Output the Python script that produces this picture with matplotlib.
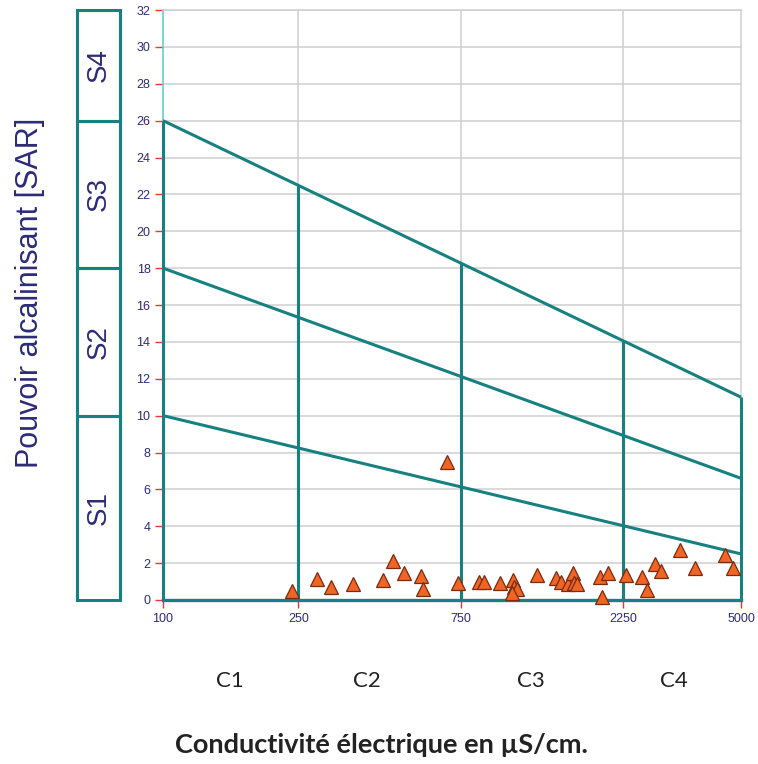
import matplotlib
matplotlib.use("Agg")
import matplotlib.pyplot as plt
import matplotlib.transforms as mtransforms
import numpy as np

# ---- data ----
ce_values = [240, 283, 311, 361, 443, 473, 512, 573, 582, 682,
             734, 851, 880, 979, 1072, 1079, 1101, 1059, 1254, 1429,
             1479, 1548, 1608, 1616, 1645, 1927, 2039, 1955, 2293, 2553,
             2641, 2794, 2910, 3311, 3664, 4490, 4747]
sar_values = [0.5, 1.12, 0.72, 0.85, 1.07, 2.11, 1.48, 1.30, 0.58, 7.5,
              0.9, 0.99, 0.96, 0.9, 1.08, 0.72, 0.6, 0.4, 1.36, 1.18,
              0.99, 0.85, 1.45, 0.94, 0.85, 1.26, 1.45, 0.18, 1.36, 1.26,
              0.54, 1.94, 1.57, 2.71, 1.72, 2.44, 1.72]

x_ticks = [100, 250, 750, 2250, 5000]
y_ticks = list(range(0, 33, 2))
ce_class_limits = [100, 250, 750, 2250, 5000]
c_labels = ["C1", "C2", "C3", "C4"]
c_label_x = [157, 398, 1207, 3177]
sar_left = [10, 18, 26]      # boundary lines at CE = 100
sar_right = [2.5, 6.6, 11]   # boundary lines at CE = 5000
s_limits = [0, 10, 18, 26, 32]
s_labels = ["S1", "S2", "S3", "S4"]

teal = "#178080"
navy = "#2b2b78"

fig = plt.figure(figsize=(7.58, 7.64), dpi=100)
ax = fig.add_axes([163/758, 1 - 600/764, 578/758, 590/764])
ax.set_xscale("log")
ax.set_xlim(100, 5000)
ax.set_ylim(0, 32)

# grid
for y in y_ticks[1:]:
    ax.axhline(y, color="#cfcfcf", lw=1.1, zorder=1)
for x in x_ticks[1:-1]:
    ax.axvline(x, color="#cfcfcf", lw=1.1, zorder=1)

# boundary lines (straight in log-x)
lx0, lx1 = np.log10(ce_class_limits[0]), np.log10(ce_class_limits[-1])
def boundary(x, i):
    t = (np.log10(x) - lx0) / (lx1 - lx0)
    return sar_left[i] + t * (sar_right[i] - sar_left[i])

for i in range(3):
    ax.plot([ce_class_limits[0], ce_class_limits[-1]], [sar_left[i], sar_right[i]],
            color=teal, lw=2.2, zorder=3, solid_capstyle="butt", clip_on=False)
for x in ce_class_limits:
    ax.plot([x, x], [0, boundary(x, 2)], color=teal, lw=2.2, zorder=4,
            solid_capstyle="butt", clip_on=False)

# points
ax.plot(ce_values, sar_values, linestyle="none", marker="^", markersize=10,
        markerfacecolor="#f06524", markeredgecolor="#7a2a10", markeredgewidth=0.9,
        zorder=5, clip_on=False)

# spines
ax.spines["left"].set_color("#66cccc")
ax.spines["left"].set_linewidth(1.2)
ax.spines["bottom"].set_color(teal)
ax.spines["bottom"].set_linewidth(2.4)
ax.spines["top"].set_color("#cfcfcf")
ax.spines["right"].set_color("#cfcfcf")
ax.spines["top"].set_linewidth(1.1)
ax.spines["right"].set_linewidth(1.1)
ax.spines["right"].set_zorder(0.5)

ax.set_xticks(x_ticks)
ax.set_xticklabels([str(v) for v in x_ticks])
ax.xaxis.set_minor_locator(matplotlib.ticker.NullLocator())
ax.set_yticks(y_ticks)
ax.set_yticklabels([str(v) for v in y_ticks])
ax.tick_params(axis="both", colors="#ee3333", length=6, width=1.0,
               labelcolor=navy, labelsize=9, pad=3)
for lab in ax.get_xticklabels() + ax.get_yticklabels():
    lab.set_family("Liberation Sans")

# S boxes on the left (x in axes coords, y in data)
trans = mtransforms.blended_transform_factory(ax.transAxes, ax.transData)
bx0, bx1 = (77 - 163) / 578, (120 - 163) / 578
for i, lab in enumerate(s_labels):
    y0, y1 = s_limits[i], s_limits[i + 1]
    rect = plt.Rectangle((bx0, y0), bx1 - bx0, y1 - y0, transform=trans,
                         fill=False, edgecolor=teal, lw=2.2, clip_on=False)
    ax.add_patch(rect)
    ax.text((bx0 + bx1) / 2, (y0 + y1) / 2, lab, transform=trans, rotation=90,
            ha="center", va="center", fontsize=20, color=navy,
            family="Liberation Sans")

# y label
fig.text(30 / 758, 1 - 293 / 764, "Pouvoir alcalinisant [SAR]", rotation=90,
         ha="center", va="center", fontsize=22, color=navy, family="Liberation Sans")

# C labels
transc = mtransforms.blended_transform_factory(ax.transData, fig.transFigure)
for x, lab in zip(c_label_x, c_labels):
    ax.text(x, 1 - 681 / 764, lab, transform=transc, ha="center", va="center",
            fontsize=16, color="#222222", family="Lato")

fig.text(381 / 758, 1 - 745 / 764, "Conductivité électrique en µS/cm.",
         ha="center", va="center", fontsize=19.5, fontweight="bold",
         color="#222222", family="Lato")

fig.savefig("out.png", dpi=100)
